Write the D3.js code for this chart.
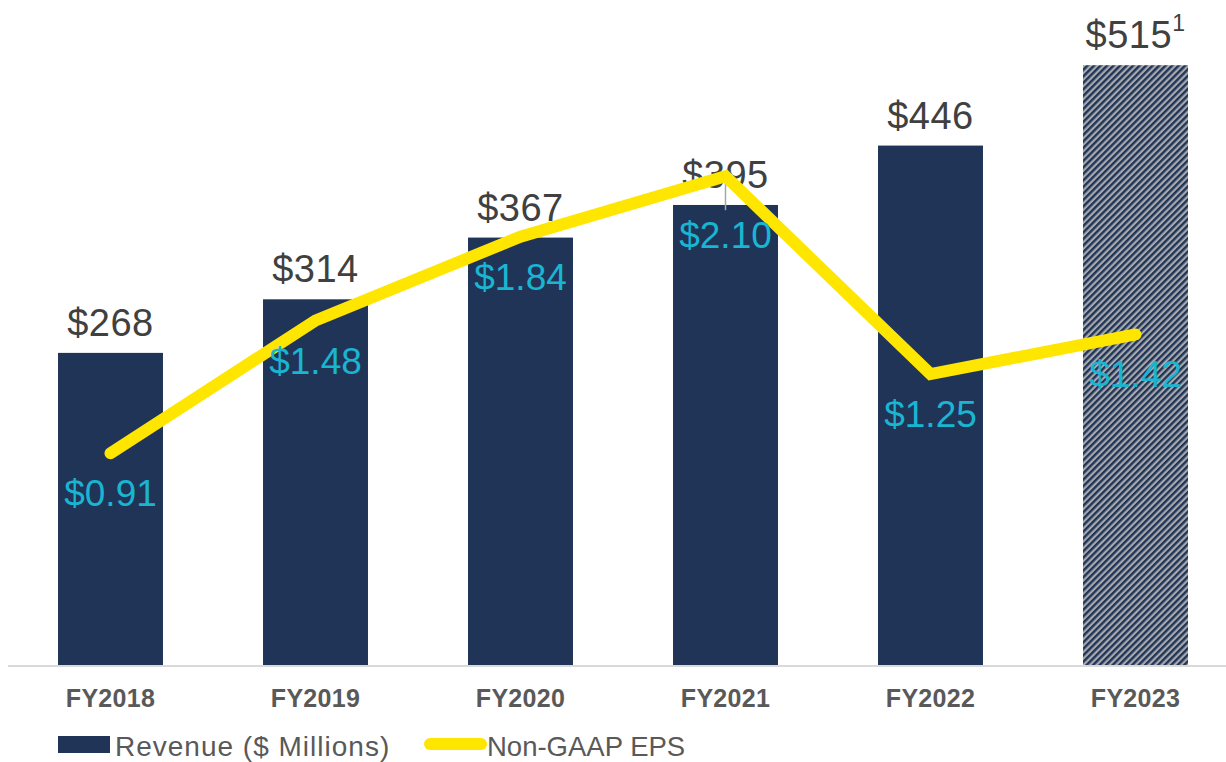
<!DOCTYPE html>
<html lang="en">
<head>
  <meta charset="UTF-8">
  <title>Revenue and Non-GAAP EPS</title>
  <script src="https://d3js.org/d3.v7.min.js"></script>
  <style>
    body {
      margin: 0;
      background: #fff;
      font-family: 'Liberation Sans', Arial, sans-serif;
    }
    svg { display: block; }
  </style>
</head>
<body>
  <script>
    // chart data
    var years = ["FY2018", "FY2019", "FY2020", "FY2021", "FY2022", "FY2023"];
    var revenue = [268, 314, 367, 395, 446, 515];
    var eps = [0.91, 1.48, 1.84, 2.10, 1.25, 1.42];
    var revenueLabels = ["$268", "$314", "$367", "$395", "$446", "$515"];
    var epsLabels = ["$0.91", "$1.48", "$1.84", "$2.10", "$1.25", "$1.42"];
    var legendNames = ["Revenue ($ Millions)", "Non-GAAP EPS"];

    var width = 1226, height = 762;
    var navy = "#203458", yellow = "#FFE600", cyan = "#19B5D1";

    var svg = d3.select("body").append("svg")
      .attr("width", width)
      .attr("height", height);

    var defs = svg.append("defs");
    var pat = defs.append("pattern")
      .attr("id", "hatch")
      .attr("patternUnits", "userSpaceOnUse")
      .attr("width", 4.6)
      .attr("height", 4.6)
      .attr("patternTransform", "rotate(45)");
    pat.append("rect").attr("width", 4.6).attr("height", 4.6).attr("fill", "#A7A9AC");
    pat.append("rect").attr("width", 2.4).attr("height", 4.6).attr("fill", navy);

    var x = d3.scaleBand()
      .domain(years)
      .range([8, 1238])
      .paddingInner(0.488)
      .paddingOuter(0.244);

    var y = d3.scaleLinear().domain([0, 571]).range([665, 0]);
    var y2 = d3.scaleLinear().domain([0, 2.857]).range([665, 0]);

    // bars
    svg.selectAll(".bar")
      .data(years)
      .join("rect")
      .attr("class", "bar")
      .attr("x", d => x(d))
      .attr("width", x.bandwidth())
      .attr("y", (d, i) => y(revenue[i]))
      .attr("height", (d, i) => y(0) - y(revenue[i]))
      .attr("fill", (d, i) => i === years.length - 1 ? "url(#hatch)" : navy);

    // baseline
    svg.append("line")
      .attr("x1", 8).attr("x2", width)
      .attr("y1", y(0) + 1).attr("y2", y(0) + 1)
      .attr("stroke", "#D9D9D9")
      .attr("stroke-width", 2);

    // category labels
    svg.selectAll(".cat")
      .data(years)
      .join("text")
      .attr("class", "cat")
      .attr("x", d => x(d) + x.bandwidth() / 2)
      .attr("y", 707)
      .attr("text-anchor", "middle")
      .attr("font-size", 25)
      .attr("font-weight", "bold")
      .attr("letter-spacing", 0.3)
      .attr("fill", "#595959")
      .text(d => d);

    // revenue labels
    var rl = svg.selectAll(".rev")
      .data(years)
      .join("text")
      .attr("class", "rev")
      .attr("x", d => x(d) + x.bandwidth() / 2)
      .attr("y", (d, i) => y(revenue[i]) - 17)
      .attr("text-anchor", "middle")
      .attr("font-size", 38)
      .attr("letter-spacing", 0.5)
      .attr("fill", "#404040")
      .text((d, i) => revenueLabels[i]);
    // footnote marker on last one
    rl.filter((d, i) => i === years.length - 1)
      .append("tspan")
      .attr("font-size", 23)
      .attr("dy", -17)
      .text("1");

    // EPS line
    var line = d3.line()
      .x(d => x(d.year) + x.bandwidth() / 2)
      .y(d => y2(d.v));
    var pts = years.map((d, i) => ({ year: d, v: eps[i] }));

    // leader line for FY2021 label
    var cx21 = x(years[3]) + x.bandwidth() / 2;
    svg.append("line")
      .attr("x1", cx21).attr("x2", cx21)
      .attr("y1", y2(eps[3]) + 6).attr("y2", y2(eps[3]) + 34)
      .attr("stroke", "#A6A6A6")
      .attr("stroke-width", 1.5);

    svg.append("path")
      .datum(pts)
      .attr("d", line)
      .attr("fill", "none")
      .attr("stroke", yellow)
      .attr("stroke-width", 12)
      .attr("stroke-linecap", "round")
      .attr("stroke-linejoin", "miter");

    // EPS labels
    svg.selectAll(".eps")
      .data(pts)
      .join("text")
      .attr("class", "eps")
      .attr("x", d => x(d.year) + x.bandwidth() / 2)
      .attr("y", (d, i) => y2(d.v) + (i === 3 ? 72 : 53))
      .attr("text-anchor", "middle")
      .attr("font-size", 37)
      .attr("fill", cyan)
      .text((d, i) => epsLabels[i]);

    // legend
    var lg = svg.append("g");
    lg.append("rect")
      .attr("x", 58).attr("y", 736)
      .attr("width", 52).attr("height", 17)
      .attr("fill", navy);
    lg.append("text")
      .attr("x", 115).attr("y", 756)
      .attr("font-size", 28)
      .attr("letter-spacing", 1)
      .attr("fill", "#595959")
      .text(legendNames[0]);
    lg.append("line")
      .attr("x1", 430).attr("x2", 481)
      .attr("y1", 744).attr("y2", 744)
      .attr("stroke", yellow)
      .attr("stroke-width", 12)
      .attr("stroke-linecap", "round");
    lg.append("text")
      .attr("x", 487).attr("y", 756)
      .attr("font-size", 27.5)
      .attr("fill", "#595959")
      .text(legendNames[1]);
  </script>
</body>
</html>
